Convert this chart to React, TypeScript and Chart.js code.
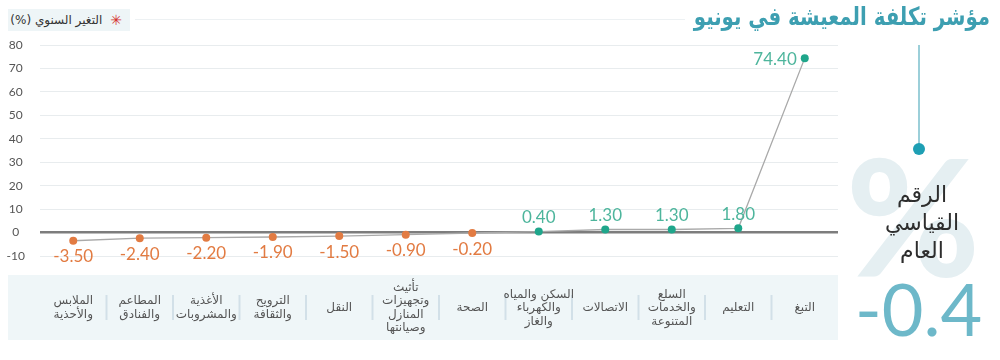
import React, { useEffect, useRef } from "react";
import { Chart, registerables } from "chart.js";

Chart.register(...registerables);

const categories: string[][] = [
  ["الملابس", "والأحذية"],
  ["المطاعم", "والفنادق"],
  ["الأغذية", "والمشروبات"],
  ["الترويح", "والثقافة"],
  ["النقل"],
  ["تأثيث", "وتجهيزات", "المنازل", "وصيانتها"],
  ["الصحة"],
  ["السكن والمياه", "والكهرباء", "والغاز"],
  ["الاتصالات"],
  ["السلع", "والخدمات", "المتنوعة"],
  ["التعليم"],
  ["التبغ"],
];

const values: number[] = [-3.5, -2.4, -2.2, -1.9, -1.5, -0.9, -0.2, 0.4, 1.3, 1.3, 1.8, 74.4];

const yMin = -10;
const yMax = 80;
const yStep = 10;

const title = "مؤشر تكلفة المعيشة في يونيو";
const legendLabel = "التغير السنوي (%)";
const indexLabelLines = ["الرقم", "القياسي", "العام"];
const indexValue = "-0.4";

const ORANGE = "#e27b42";
const TEAL_POINT = "#1fa68b";
const TEAL_LABEL = "#4db59c";

const ARABIC_FONT = "'DejaVu Sans', sans-serif";
const NUM_FONT = "Lato, sans-serif";

const decorPlugin = {
  id: "decor",
  beforeDraw(chart: any) {
    const { ctx, scales } = chart;
    const x = scales.x;
    const area = chart.chartArea;
    ctx.save();
    // table background
    ctx.fillStyle = "#eff6f8";
    ctx.fillRect(8, 275, area.right - 8, 65);
    // separators
    ctx.strokeStyle = "#d2e0e8";
    ctx.lineWidth = 2;
    for (let i = 0; i < categories.length - 1; i++) {
      const mx = (x.getPixelForValue(i) + x.getPixelForValue(i + 1)) / 2;
      ctx.beginPath();
      ctx.moveTo(mx, 295);
      ctx.lineTo(mx, 320);
      ctx.stroke();
    }
    // category labels
    ctx.fillStyle = "#555";
    ctx.font = `12px ${ARABIC_FONT}`;
    ctx.textAlign = "center";
    ctx.textBaseline = "middle";
    const lh = 13.5;
    categories.forEach((lines, i) => {
      const cx = x.getPixelForValue(i);
      const startY = 308 - ((lines.length - 1) * lh) / 2;
      lines.forEach((ln, j) => {
        ctx.fillText(ln, cx, startY + j * lh);
      });
    });
    ctx.restore();
  },
  afterDatasetsDraw(chart: any) {
    const { ctx } = chart;
    const meta = chart.getDatasetMeta(0);
    ctx.save();
    ctx.font = `17px ${NUM_FONT}`;
    ctx.textBaseline = "middle";
    meta.data.forEach((pt: any, i: number) => {
      const v = values[i];
      const txt = v.toFixed(2);
      if (i === values.length - 1) {
        ctx.fillStyle = TEAL_LABEL;
        ctx.textAlign = "right";
        ctx.fillText(txt, pt.x - 8, pt.y + 1);
      } else if (v < 0) {
        ctx.fillStyle = ORANGE;
        ctx.textAlign = "center";
        ctx.fillText(txt, pt.x, pt.y + 16);
      } else {
        ctx.fillStyle = TEAL_LABEL;
        ctx.textAlign = "center";
        ctx.fillText(txt, pt.x, pt.y - 14);
      }
    });
    ctx.restore();
  },
};

export default function App() {
  const canvasRef = useRef<HTMLCanvasElement | null>(null);

  useEffect(() => {
    if (!canvasRef.current) return;
    const chart = new Chart(canvasRef.current, {
      type: "line",
      data: {
        labels: categories.map((c) => c.join(" ")),
        datasets: [
          {
            data: values,
            borderColor: "#a9a9a9",
            borderWidth: 1.3,
            pointRadius: 4,
            pointHoverRadius: 4,
            pointBorderWidth: 0,
            pointBackgroundColor: values.map((v) => (v < 0 ? ORANGE : TEAL_POINT)),
            tension: 0,
          },
        ],
      },
      options: {
        responsive: false,
        animation: false,
        layout: { padding: { left: 0, right: 162, top: 45, bottom: 96 } },
        plugins: { legend: { display: false }, tooltip: { enabled: false } },
        scales: {
          x: {
            type: "category",
            offset: true,
            ticks: { display: false },
            grid: { display: false },
            border: { display: false },
          },
          y: {
            min: yMin,
            max: yMax,
            ticks: {
              stepSize: yStep,
              color: "#555",
              font: { size: 12, family: NUM_FONT },
              padding: 15,
              crossAlign: "center",
            },
            grid: {
              color: (c: any) => (c.tick && c.tick.value === 0 ? "#7d7d7d" : "#e8ecee"),
              lineWidth: (c: any) => (c.tick && c.tick.value === 0 ? 2.5 : 1),
              drawTicks: false,
            },
            border: { display: false },
            afterFit: (s: any) => {
              s.width = 40;
            },
          },
        },
      },
      plugins: [decorPlugin],
    } as any);
    return () => chart.destroy();
  }, []);

  return (
    <div
      style={{
        position: "absolute",
        left: 0,
        top: 0,
        width: 1000,
        height: 360,
        background: "#fff",
        overflow: "hidden",
      }}
    >
      <div
        style={{
          position: "absolute",
          left: 846,
          top: 134,
          fontFamily: NUM_FONT,
          fontWeight: 900,
          fontSize: 162,
          lineHeight: "162px",
          color: "#e5eff2",
        }}
      >
        %
      </div>
      <canvas
        ref={canvasRef}
        width={1000}
        height={360}
        style={{ position: "absolute", left: 0, top: 0, width: 1000, height: 360 }}
      />
      <div
        style={{
          position: "absolute",
          left: 135,
          top: 19,
          width: 550,
          height: 1,
          background: "#edf1f3",
        }}
      />
      <div
        style={{
          position: "absolute",
          left: 8,
          top: 9,
          width: 122,
          height: 22,
          background: "#eef5f7",
          display: "flex",
          alignItems: "center",
          direction: "rtl",
          boxSizing: "border-box",
          paddingRight: 8,
          gap: 8,
        }}
      >
        <span style={{ color: "#d4332f", fontSize: 14, fontFamily: "'DejaVu Sans'" }}>✳</span>
        <span style={{ color: "#333", fontSize: 12, fontFamily: ARABIC_FONT }}>{legendLabel}</span>
      </div>
      <div
        style={{
          position: "absolute",
          right: 10,
          top: 2,
          direction: "rtl",
          fontFamily: ARABIC_FONT,
          fontWeight: "bold",
          fontSize: 25,
          color: "#3d9fb1",
          whiteSpace: "nowrap",
          transform: "scaleX(0.79)",
          transformOrigin: "right center",
        }}
      >
        {title}
      </div>
      <div
        style={{
          position: "absolute",
          left: 918,
          top: 45,
          width: 2,
          height: 103,
          background: "#9ccfd9",
        }}
      />
      <div
        style={{
          position: "absolute",
          left: 913,
          top: 143,
          width: 12,
          height: 12,
          borderRadius: 6,
          background: "#1e9fb4",
        }}
      />
      <div
        style={{
          position: "absolute",
          left: 862,
          top: 181,
          width: 120,
          textAlign: "center",
          direction: "rtl",
          fontFamily: ARABIC_FONT,
          fontSize: 22,
          lineHeight: "28px",
          color: "#2d2d2d",
        }}
      >
        {indexLabelLines.map((l, i) => (
          <div key={i}>{l}</div>
        ))}
      </div>
      <div
        style={{
          position: "absolute",
          left: 855,
          top: 272,
          fontFamily: NUM_FONT,
          fontSize: 72,
          lineHeight: "72px",
          color: "#6db8c9",
          whiteSpace: "nowrap",
        }}
      >
        {indexValue}
      </div>
    </div>
  );
}
